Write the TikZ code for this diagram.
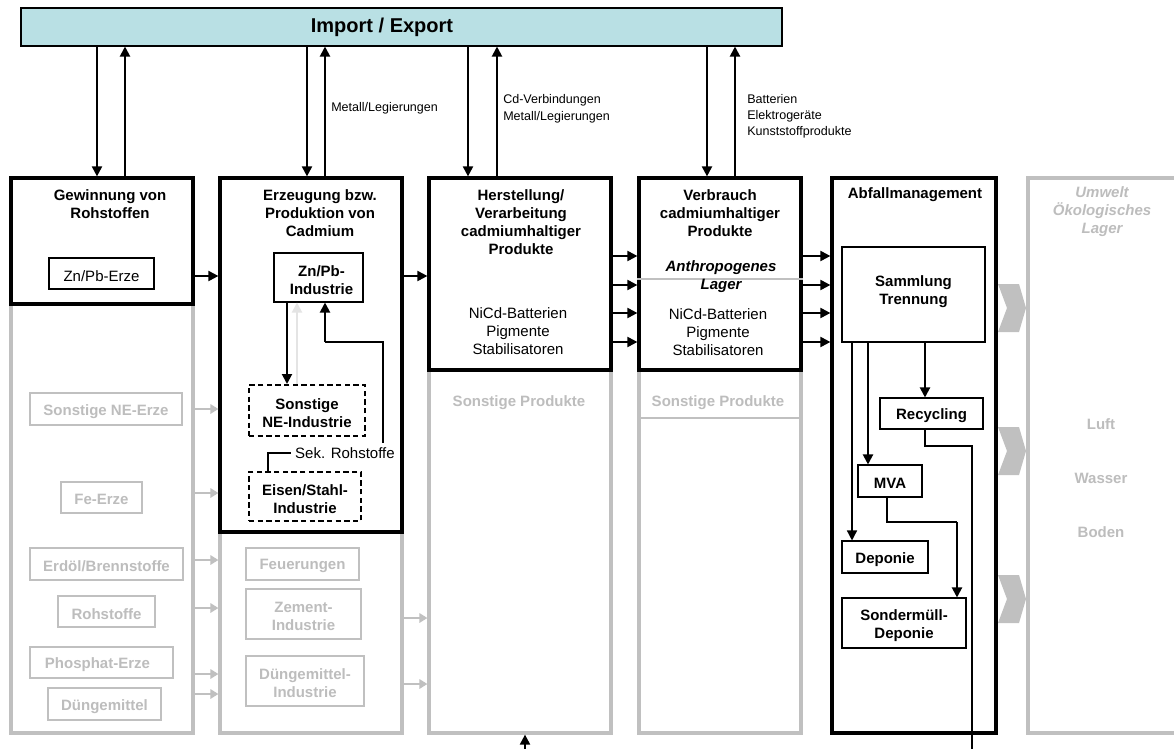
\documentclass[tikz,border=0pt]{standalone}
\usepackage{fontspec}
\setmainfont{Liberation Sans}
\usetikzlibrary{fit,calc,arrows.meta}
\definecolor{iecol}{HTML}{B9E0E4}
\definecolor{lgray}{HTML}{C0C0C0}
\definecolor{tgray}{HTML}{BDBDBD}
\definecolor{vlgray}{HTML}{E4E4E4}
\tikzset{
  fnorm/.style={font=\fontsize{11.25}{13.5}\selectfont},
  fbold/.style={font=\fontsize{11.25}{13.5}\selectfont\bfseries},
  fbi/.style={font=\fontsize{11.25}{13.5}\selectfont\bfseries\itshape},
  fsmall/.style={font=\fontsize{9.4}{12}\selectfont},
  mainbox/.style={draw=black, line width=2.4pt, fill=white, inner sep=0pt},
  graycol/.style={draw=lgray, line width=2.4pt, inner sep=0pt},
  thinbox/.style={draw=black, line width=0.8pt, fill=white, inner sep=0pt},
  dashbox/.style={draw=black, line width=1.5pt, dash pattern=on 4pt off 2.5pt, fill=white, inner sep=0pt},
  graybox/.style={draw=lgray, line width=0.8pt, inner sep=0pt},
  btxt/.style={fbold, align=center},
  gtxt/.style={fbold, text=tgray, align=center},
  intxt/.style={yshift=-1.8pt},
  arr/.style={line width=1.5pt, -{Triangle[length=7.5pt,width=7.5pt]}},
  garr/.style={draw=lgray, line width=2pt, -{Triangle[length=6pt,width=7pt]}},
  thinline/.style={line width=0.8pt},
}
\begin{document}
\begin{tikzpicture}[x=0.75pt, y=-0.75pt]
\clip (0,0) rectangle (1174,749);
\fill[white] (0,0) rectangle (1174,749);
% Import / Export
\node[draw=black, line width=0.8pt, fill=iecol, inner sep=0pt, fit={(21,8)(782,46)}] (IE) {};
\node[font=\fontsize{15}{18}\selectfont\bfseries] (IEt) at (382,27) {Import / Export};
% gray columns
\node[graycol, fit={(11,178)(193,733)}] (G1) {};
\node[graycol, fit={(220,178)(402,733)}] (G2) {};
\node[graycol, fit={(429,178)(611,733)}] (G3) {};
\node[graycol, fit={(639,178)(801,733)}] (G4) {};
\node[graycol, fit={(1028,178)(1230,733)}] (G6) {};
% main boxes
\node[mainbox, fit={(11,178)(193,304)}] (B1) {};
\node[mainbox, fit={(220,178)(402,532)}] (B2) {};
\node[mainbox, fit={(429,178)(611,370)}] (B3) {};
\node[mainbox, fit={(639,178)(801,370)}] (B4) {};
\node[mainbox, fit={(832,178)(996,733)}] (B5) {};
% dividers
\draw[lgray, line width=0.8pt] (B4.west |- 0,279) -- (B4.east |- 0,279);
\draw[lgray, line width=0.8pt] (G4.west |- 0,418) -- (G4.east |- 0,418);
% titles
\node[btxt] (t1) at (110,204) {Gewinnung von\\Rohstoffen};
\node[btxt] (t2) at (320,213) {Erzeugung bzw.\\Produktion von\\Cadmium};
\node[btxt] (t3) at (521,222) {Herstellung/\\Verarbeitung\\cadmiumhaltiger\\Produkte};
\node[btxt] (t4) at (720,213) {Verbrauch\\cadmiumhaltiger\\Produkte};
\node[btxt] (t5) at (915,195) {Abfallmanagement};
\node[fbi, text=tgray, align=center] (t6) at (1102,212) {Umwelt\\Ökologisches\\Lager};
\node[fbi, align=center] (anth) at (721,277) {Anthropogenes\\Lager};
\node[fnorm, align=center] (p3) at (518,331) {NiCd-Batterien\\Pigmente\\Stabilisatoren};
\node[fnorm, align=center] (p4) at (718,332) {NiCd-Batterien\\Pigmente\\Stabilisatoren};
\node[gtxt] (s3) at (519,403) {Sonstige Produkte};
\node[gtxt] (s4) at (718,403) {Sonstige Produkte};
% boxes in column 1 and 2
\node[thinbox, fit={(49,258)(154,289)}] (ZE) {};
\node[fnorm, intxt] (ZEt) at (ZE.center) {Zn/Pb-Erze};
\node[thinbox, fit={(274,253)(363,302)}] (ZI) {};
\node[btxt, intxt] (ZIt) at ($(ZI.center)+(3,0)$) {Zn/Pb-\\Industrie};
\node[dashbox, fit={(249,385)(365,436)}] (SNI) {};
\node[btxt, intxt] (SNIt) at (SNI.center) {Sonstige\\NE-Industrie};
\node[dashbox, fit={(249,472)(361,521)}] (ESI) {};
\node[btxt, intxt] (ESIt) at (ESI.center) {Eisen/Stahl-\\Industrie};
\node[graybox, fit={(30,393)(182,425)}] (SNE) {};
\node[gtxt, intxt] (SNEt) at (SNE.center) {Sonstige NE-Erze};
\node[graybox, fit={(61,482)(142,513)}] (FE) {};
\node[gtxt, intxt] (FEt) at (FE.center) {Fe-Erze};
\node[graybox, fit={(30,548)(183,580)}] (EB) {};
\node[gtxt, intxt] (EBt) at (EB.center) {Erdöl/Brennstoffe};
\node[graybox, fit={(58,596)(155,627)}] (RS) {};
\node[gtxt, intxt] (RSt) at (RS.center) {Rohstoffe};
\node[graybox, fit={(30,647)(173,678)}] (PE) {};
\node[gtxt, intxt] (PEt) at ($(PE.center)+(-4,0)$) {Phosphat-Erze};
\node[graybox, fit={(48,688)(161,720)}] (DM) {};
\node[gtxt, intxt] (DMt) at (DM.center) {Düngemittel};
\node[graybox, fit={(246,548)(359,580)}] (FU) {};
\node[gtxt, intxt] (FUt) at (FU.center) {Feuerungen};
\node[graybox, fit={(246,589)(361,639)}] (ZM) {};
\node[gtxt, intxt] (ZMt) at (ZM.center) {Zement-\\Industrie};
\node[graybox, fit={(246,656)(364,706)}] (DI) {};
\node[gtxt, intxt] (DIt) at (DI.center) {Düngemittel-\\Industrie};
% waste management
\node[thinbox, fit={(842,247)(985,342)}] (ST) {};
\node[btxt] (STt) at ($(ST.center)+(0,-3)$) {Sammlung\\Trennung};
\node[thinbox, fit={(880,398)(983,429)}] (RC) {};
\node[btxt, intxt] (RCt) at (RC.center) {Recycling};
\node[thinbox, fit={(858,465)(922,497)}] (MVA) {};
\node[btxt, intxt] (MVAt) at (MVA.center) {MVA};
\node[thinbox, fit={(842,541)(928,573)}] (DP) {};
\node[btxt, intxt] (DPt) at (DP.center) {Deponie};
\node[thinbox, fit={(842,598)(966,648)}] (SD) {};
\node[btxt, intxt] (SDt) at (SD.center) {Sondermüll-\\Deponie};
% environment
\node[gtxt] (luft) at (1101,424) {Luft};
\node[gtxt] (wasser) at (1101,478) {Wasser};
\node[gtxt] (boden) at (1101,532) {Boden};
\foreach \c in {308,451,599} {
  \fill[lgray] (998,\c-24) -- (1019,\c-24) -- (1026,\c) -- (1019,\c+24) -- (998,\c+24) -- (1007,\c) -- cycle;
}
% import/export arrows
\draw[arr] (IE.south -| 97,0) -- (B1.north -| 97,0);
\draw[arr] (B1.north -| 125,0) -- (IE.south -| 125,0);
\draw[arr] (IE.south -| 307,0) -- (B2.north -| 307,0);
\draw[arr] (B2.north -| 325,0) -- (IE.south -| 325,0);
\draw[arr] (IE.south -| 468,0) -- (B3.north -| 468,0);
\draw[arr] (B3.north -| 497,0) -- (IE.south -| 497,0);
\draw[arr] (IE.south -| 707,0) -- (B4.north -| 707,0);
\draw[arr] (B4.north -| 735,0) -- (IE.south -| 735,0);
\node[fsmall, anchor=west, inner sep=0pt] (l2) at (331,108) {Metall/Legierungen};
\node[font=\fontsize{9.4}{12.75}\selectfont, anchor=west, align=left, inner sep=0pt] (l3) at (503,109) {Cd-Verbindungen\\Metall/Legierungen};
\node[fsmall, anchor=west, align=left, inner sep=0pt] (l4) at (747,116) {Batterien\\Elektrogeräte\\Kunststoffprodukte};
% horizontal flows
\draw[arr] (B1.east |- 0,276) -- (B2.west |- 0,276);
\draw[arr] (B2.east |- 0,276) -- (B3.west |- 0,276);
\foreach \yy in {256,285,313,342} {
  \draw[arr] (B3.east |- 0,\yy) -- (B4.west |- 0,\yy);
  \draw[arr] (B4.east |- 0,\yy) -- (B5.west |- 0,\yy);
}
\foreach \yy in {409,493,560,608,674,694} {
  \draw[garr] (G1.east |- 0,\yy) -- (G2.west |- 0,\yy);
}
\foreach \yy in {618,684} {
  \draw[garr] (G2.east |- 0,\yy) -- (G3.west |- 0,\yy);
}
% inside column 2
\draw[arr] (ZI.south -| 287,0) -- (SNI.north -| 287,0);
\draw[arr, color=vlgray] (SNI.north -| 297,0) -- (ZI.south -| 297,0);
\node[fnorm, anchor=west] (SR) at (290.5,453) {Sek. Rohstoffe};
\draw[thinline] (ESI.north -| 268,0) |- (SR.west);
\coordinate (sk) at (325,342);
\draw[thinline] (SR.north -| 383,0) -- (383,342) -- (sk);
\draw[arr] (sk) -- (ZI.south -| sk);
% inside column 5
\draw[arr] (ST.south -| 925,0) -- (RC.north -| 925,0);
\draw[arr] (ST.south -| 868,0) -- (MVA.north -| 868,0);
\draw[arr, line width=1.1pt] (ST.south -| 852,0) -- (DP.north -| 852,0);
\coordinate (m1) at (957,522);
\draw[thinline] (MVA.south -| 887,0) -- (887,522) -- (m1);
\draw[arr] (m1) -- (SD.north -| m1);
\coordinate (rcend) at (972,760);
\draw[thinline] (RC.south -| 925,0) -- (925,446) -- (972,446) -- (rcend);
% bottom input
\coordinate (bin) at (525,760);
\draw[arr] (bin) -- (G3.south -| bin);
\end{tikzpicture}
\end{document}
